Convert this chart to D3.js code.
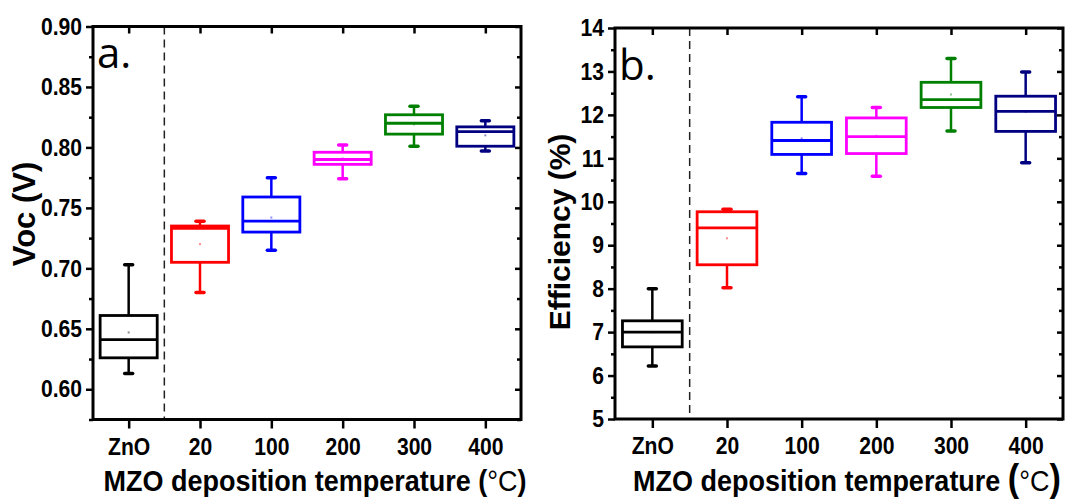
<!DOCTYPE html>
<html>
<head>
<meta charset="utf-8">
<script src="https://cdn.jsdelivr.net/npm/d3@7"></script>
<style>
  body { margin: 0; background: #fff; }
  .tick text { font-family: "Liberation Sans", Arial, sans-serif; font-weight: bold; font-size: 24px; fill: #000; }
  .tick line { stroke: #000; stroke-width: 2.5; }
</style>
</head>
<body>
<div id="chart"></div>
<script>
let categories = ["ZnO", "20", "100", "200", "300", "400"];
let boxColors = ["#000000", "#ff0000", "#0000ff", "#ff00ff", "#008000", "#000080"];

// Voc (V) box statistics
let vocMin  = [0.613, 0.680, 0.715, 0.774, 0.801, 0.797];
let vocQ1   = [0.626, 0.705, 0.730, 0.786, 0.811, 0.801];
let vocMed  = [0.641, 0.733, 0.739, 0.790, 0.820, 0.813];
let vocQ3   = [0.661, 0.735, 0.759, 0.796, 0.827, 0.817];
let vocMax  = [0.703, 0.739, 0.775, 0.802, 0.834, 0.822];
let vocMean = [0.647, 0.720, 0.742, 0.791, 0.819, 0.810];
let vocTicks = [0.60, 0.65, 0.70, 0.75, 0.80, 0.85, 0.90];

// Efficiency (%) box statistics
let effMin  = [6.22, 8.02, 10.65, 10.59, 11.63, 10.90];
let effQ1   = [6.66, 8.55, 11.09, 11.11, 12.17, 11.62];
let effMed  = [7.00, 9.40, 11.41, 11.50, 12.35, 12.08];
let effQ3   = [7.26, 9.77, 11.83, 11.93, 12.75, 12.43];
let effMax  = [8.00, 9.83, 12.42, 12.17, 13.30, 12.99];
let effMean = [7.00, 9.16, 11.46, 11.52, 12.47, 12.07];
let effTicks = [5, 6, 7, 8, 9, 10, 11, 12, 13, 14];

let narrow = 0.88; // no narrow font installed, squeeze glyphs instead

let svg = d3.select("#chart").append("svg")
	.attr("width", 1070)
	.attr("height", 502)
	.style("background-color", "white");

function drawPanel(p) {
	let x = d3.scalePoint().domain(categories).range([p.left, p.right]).padding(0.5);
	let y = d3.scaleLinear().domain(p.domain).range([p.bottom, p.top]);
	let step = x.step();
	let bw = step * 0.8;
	let g = svg.append("g");

	let minorTicks = p.ticks.slice(0, -1).map(function(t, i){ return (t + p.ticks[i+1]) / 2; });
	if (p.domain[0] < p.ticks[0]) minorTicks.unshift(p.ticks[0] - (p.ticks[1] - p.ticks[0]) / 2);

	// left axis, outward ticks with labels
	g.append("g").attr("transform", "translate(" + p.left + ",0)")
		.call(d3.axisLeft(y).tickValues(p.ticks).tickFormat(p.fmt).tickSize(7).tickPadding(5).tickSizeOuter(0))
		.call(function(a){
			a.select(".domain").remove();
			a.selectAll(".tick text").attr("x", -11 / narrow).attr("transform", "scale(" + narrow + ",1)");
		});
	g.append("g").attr("transform", "translate(" + p.left + ",0)")
		.call(d3.axisLeft(y).tickValues(minorTicks).tickFormat("").tickSize(4).tickSizeOuter(0))
		.call(function(a){ a.select(".domain").remove(); });

	// right axis, inward ticks
	g.append("g").attr("transform", "translate(" + p.right + ",0)")
		.call(d3.axisLeft(y).tickValues(p.ticks).tickFormat("").tickSize(6).tickSizeOuter(0))
		.call(function(a){ a.select(".domain").remove(); });
	g.append("g").attr("transform", "translate(" + p.right + ",0)")
		.call(d3.axisLeft(y).tickValues(minorTicks).tickFormat("").tickSize(4).tickSizeOuter(0))
		.call(function(a){ a.select(".domain").remove(); });

	// bottom axis with category labels
	g.append("g").attr("transform", "translate(0," + p.bottom + ")")
		.call(d3.axisBottom(x).tickSize(9).tickPadding(9).tickSizeOuter(0))
		.call(function(a){
			a.select(".domain").remove();
			a.selectAll(".tick text").attr("transform", "scale(" + narrow + ",1)");
		});

	// top axis, inward ticks
	g.append("g").attr("transform", "translate(0," + p.top + ")")
		.call(d3.axisBottom(x).tickFormat("").tickSize(7).tickSizeOuter(0))
		.call(function(a){ a.select(".domain").remove(); });

	// dashed separator between ZnO and MZO
	let sep = (x(categories[0]) + x(categories[1])) / 2;
	g.append("line")
		.attr("x1", sep).attr("x2", sep)
		.attr("y1", p.top).attr("y2", p.bottom)
		.attr("stroke", "#222")
		.attr("stroke-width", 1.5)
		.attr("stroke-dasharray", "8,5");

	let boxes = g.selectAll(".box")
		.data(categories)
		.enter().append("g").classed("box", true);

	boxes.append("line")
		.attr("x1", function(d){ return x(d); })
		.attr("x2", function(d){ return x(d); })
		.attr("y1", function(d, i){ return y(p.max[i]); })
		.attr("y2", function(d, i){ return y(p.min[i]); })
		.attr("stroke", function(d, i){ return boxColors[i]; })
		.attr("stroke-width", 2.5);

	boxes.append("rect")
		.attr("x", function(d){ return x(d) - bw / 2; })
		.attr("y", function(d, i){ return y(p.q3[i]); })
		.attr("width", bw)
		.attr("height", function(d, i){ return y(p.q1[i]) - y(p.q3[i]); })
		.attr("fill", "white")
		.attr("stroke", function(d, i){ return boxColors[i]; })
		.attr("stroke-width", 2.8);

	boxes.append("line")
		.attr("x1", function(d){ return x(d) - bw / 2; })
		.attr("x2", function(d){ return x(d) + bw / 2; })
		.attr("y1", function(d, i){ return y(p.med[i]); })
		.attr("y2", function(d, i){ return y(p.med[i]); })
		.attr("stroke", function(d, i){ return boxColors[i]; })
		.attr("stroke-width", 2.8);

	["min", "max"].forEach(function(k){
		boxes.append("line")
			.attr("x1", function(d){ return x(d) - 4; })
			.attr("x2", function(d){ return x(d) + 4; })
			.attr("y1", function(d, i){ return y(p[k][i]); })
			.attr("y2", function(d, i){ return y(p[k][i]); })
			.attr("stroke", function(d, i){ return boxColors[i]; })
			.attr("stroke-width", 3.5)
			.attr("stroke-linecap", "round");
	});

	boxes.append("rect")
		.attr("x", function(d){ return x(d) - 1; })
		.attr("y", function(d, i){ return y(p.mean[i]) - 1; })
		.attr("width", 2).attr("height", 2)
		.attr("fill", function(d, i){ return boxColors[i]; })
		.attr("opacity", 0.45);

	// frame
	g.append("rect")
		.attr("x", p.left).attr("y", p.top)
		.attr("width", p.right - p.left)
		.attr("height", p.bottom - p.top)
		.attr("fill", "none")
		.attr("stroke", "black")
		.attr("stroke-width", 3);

	// panel letter
	g.append("text")
		.attr("x", p.left + 4).attr("y", p.letterY)
		.text(p.letter)
		.style("font-family", "'Open Sans', 'Liberation Sans', sans-serif")
		.style("font-size", "42px")
		.style("fill", "black");

	// y title
	g.append("text")
		.attr("transform", "translate(" + p.yTitleX + "," + p.yTitleY + ") rotate(-90)")
		.attr("text-anchor", "middle")
		.text(p.yTitle)
		.style("font-family", "'Liberation Sans', Arial, sans-serif")
		.style("font-weight", "bold")
		.style("font-size", p.yTitleSize);

	// x title
	let xt = g.append("g")
		.attr("transform", "translate(" + ((p.left + p.right) / 2 + p.xTitleShift) + ",491)")
		.append("text")
		.attr("text-anchor", "middle")
		.attr("transform", "scale(0.9,1)")
		.style("font-family", "'Liberation Sans', Arial, sans-serif")
		.style("font-weight", "bold")
		.style("font-size", "30px");
	xt.append("tspan").text("MZO deposition temperature ");
	xt.append("tspan").text("(").style("font-size", p.parenSize);
	xt.append("tspan").text("°C").style("font-weight", "normal");
	xt.append("tspan").text(")").style("font-size", p.parenSize);
}

drawPanel({
	left: 93, right: 521, top: 26.5, bottom: 419.5,
	domain: [0.575, 0.90], ticks: vocTicks, fmt: d3.format(".2f"),
	min: vocMin, q1: vocQ1, med: vocMed, q3: vocQ3, max: vocMax, mean: vocMean,
	letter: "a.", letterY: 68,
	yTitle: "Voc (V)", yTitleX: 35, yTitleY: 214, yTitleSize: "31px",
	parenSize: "30px", xTitleShift: 8
});

drawPanel({
	left: 615, right: 1063, top: 28, bottom: 419,
	domain: [5, 14], ticks: effTicks, fmt: d3.format("d"),
	min: effMin, q1: effQ1, med: effMed, q3: effQ3, max: effMax, mean: effMean,
	letter: "b.", letterY: 80,
	yTitle: "Efficiency (%)", yTitleX: 570, yTitleY: 232, yTitleSize: "30px",
	parenSize: "38px", xTitleShift: 8
});
</script>
</body>
</html>
